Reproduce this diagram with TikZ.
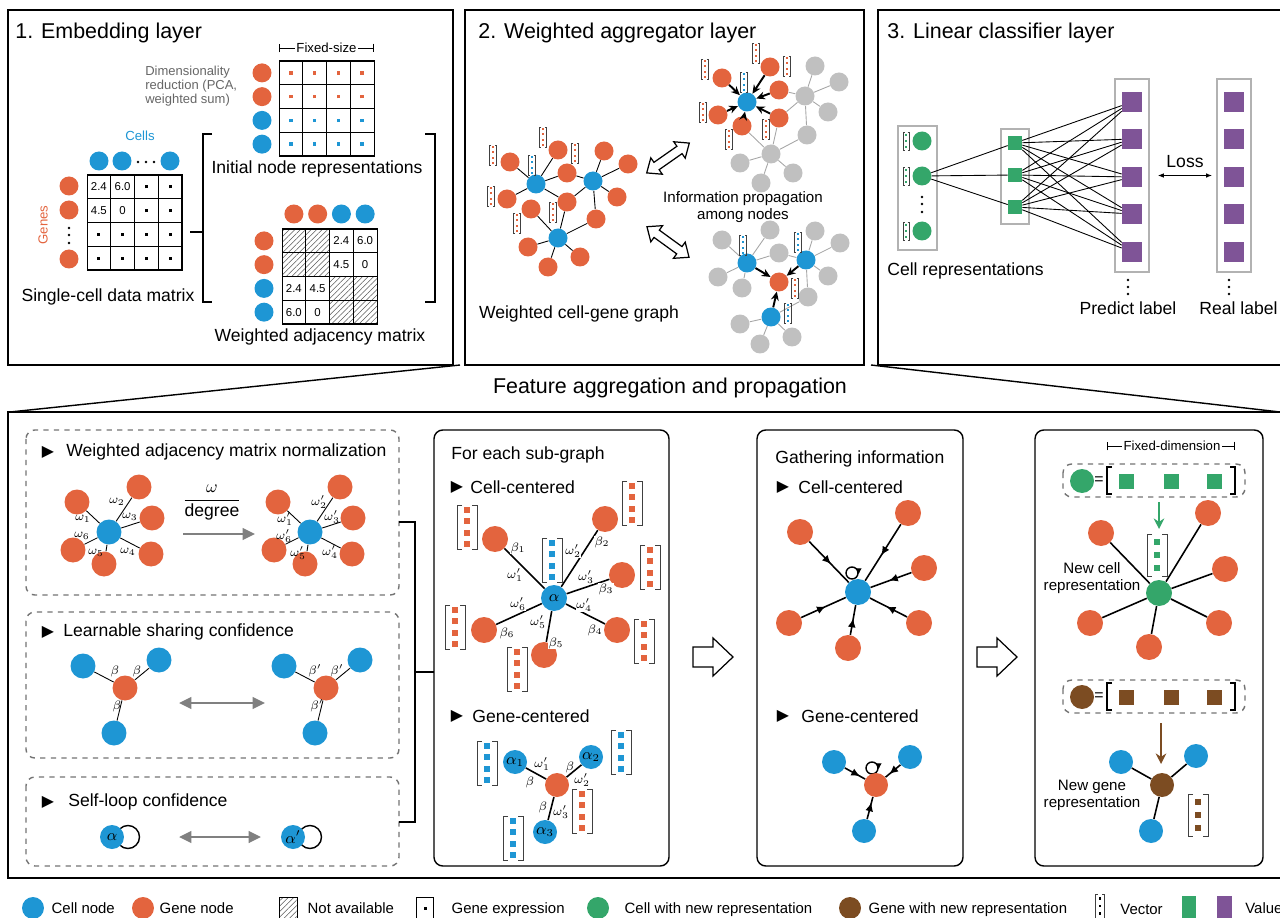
\documentclass[tikz,border=0pt]{standalone}
\usepackage{fontspec}
\usepackage{amsmath}
\setmainfont{Liberation Sans}
\newfontfamily\symfont{DejaVu Sans}
\usetikzlibrary{arrows.meta, positioning, patterns.meta, decorations.markings}

\definecolor{cellblue}{RGB}{30,150,212}
\definecolor{genered}{RGB}{227,100,62}
\definecolor{newgreen}{RGB}{52,166,106}
\definecolor{newbrown}{RGB}{124,76,34}
\definecolor{valpurple}{RGB}{127,84,151}
\definecolor{nodegrey}{RGB}{192,192,192}

\newcommand{\gexp}{\rule{1.7pt}{1.7pt}}
% vettore: x, y, colore, mezza altezza, mezza larghezza, posizioni dei punti
\newcommand{\vett}[6]{%
  \draw[black!75, line width=0.45pt]
    (#1-0.5*#5,#2-#4) -- (#1-#5,#2-#4) -- (#1-#5,#2+#4) -- (#1-0.5*#5,#2+#4)
    (#1+0.5*#5,#2-#4) -- (#1+#5,#2-#4) -- (#1+#5,#2+#4) -- (#1+0.5*#5,#2+#4);
  \foreach \k in {#6}
    \fill[#3] (#1-0.3*#5,#2-#4+2*\k*#4-0.3*#5) rectangle (#1+0.3*#5,#2-#4+2*\k*#4+0.3*#5);%
}

\begin{document}
\begin{tikzpicture}[x=0.02cm, y=-0.02cm]
    % Stili
    \tikzstyle{panel}=[draw, line width=0.8pt]
    \tikzstyle{dashbox}=[draw=black!55, dashed, line width=0.8pt, rounded corners=5pt]
    \tikzstyle{ptitle}=[anchor=west, inner sep=0pt, font=\fontsize{12.2}{14}\selectfont]
    \tikzstyle{lbl}=[inner sep=0pt, font=\fontsize{10}{12}\selectfont]
    \tikzstyle{heading}=[anchor=west, inner sep=0pt, font=\fontsize{10}{12}\selectfont]
    \tikzstyle{note}=[inner sep=0pt, align=center, font=\fontsize{8.6}{9.6}\selectfont]
    \tikzstyle{smalltxt}=[inner sep=0pt, font=\fontsize{7.5}{8}\selectfont]
    \tikzstyle{greek}=[inner sep=0pt, font=\fontsize{7}{8}\selectfont]
    \tikzstyle{legtxt}=[anchor=west, inner sep=0pt, text height=1.6ex, text depth=0.4ex, font=\fontsize{8.5}{10}\selectfont]
    \tikzstyle{tri}=[inner sep=0pt, font=\symfont\fontsize{9}{9}\selectfont]
    \tikzstyle{cellnode}=[circle, fill=cellblue, inner sep=0pt, minimum size=0.38cm, font=\fontsize{9}{10}\selectfont]
    \tikzstyle{genenode}=[circle, fill=genered, inner sep=0pt, minimum size=0.38cm]
    \tikzstyle{greynode}=[circle, fill=nodegrey, inner sep=0pt, minimum size=0.38cm]
    \tikzstyle{mcell}=[draw, rectangle, minimum size=0.475cm, inner sep=0pt, line width=0.6pt, font=\fontsize{6.5}{7}\selectfont]
    \tikzstyle{hatch}=[pattern={Lines[angle=45, distance=2.2pt, line width=0.3pt]}, pattern color=black!65]
    \tikzstyle{link}=[line width=0.5pt]
    \tikzstyle{thicklink}=[line width=0.9pt]
    \tikzstyle{greylink}=[line width=0.5pt, black!35]
    \tikzstyle{push}=[-{Stealth[length=5pt, width=4.5pt]}, line width=1.1pt]
    \tikzstyle{graybox}=[draw=black!30, line width=0.8pt, inner sep=0pt]
    \tikzstyle{grey_arrow}=[-{Triangle[length=7pt, width=6.5pt]}, line width=1.6pt, black!50]
    \tikzstyle{grey_double}=[{Triangle[length=7pt, width=6.5pt]}-{Triangle[length=7pt, width=6.5pt]}, line width=1.6pt, black!50]
    \tikzstyle{inflow}=[line width=0.9pt, postaction={decorate}, decoration={markings, mark=at position 0.55 with {\arrow{Latex[length=5pt, width=4.5pt]}}}]
    \tikzstyle{inflow_near}=[line width=0.9pt, postaction={decorate}, decoration={markings, mark=at position 0.75 with {\arrow{Latex[length=5pt, width=4.5pt]}}}]
    \tikzstyle{openarrow}=[draw, fill=white, line width=0.7pt, line join=miter]

    \useasboundingbox (0,0) rectangle (1280,918);

    % ---------------- 1. Embedding layer ----------------
    \draw[panel] (8,10) rectangle (453,365);
    \node[ptitle] (t1) at (15,33) {1. Embedding layer};

    \coordinate (fsA) at (279,48);
    \coordinate (fsB) at (374,48);
    \draw[{Bar[width=5pt]}-{Bar[width=5pt]}, line width=0.5pt] (fsA) -- (fsB);
    \node[smalltxt, fill=white, inner xsep=1pt] (fs) at (326.5,48) {Fixed-size};
    \node[anchor=west, inner sep=0pt, align=left, text=black!60, font=\fontsize{7.4}{7.9}\selectfont] (dimred) at (145,86) {Dimensionality\\reduction (PCA,\\weighted sum)};

    % matrice delle rappresentazioni iniziali
    \foreach \r/\cc in {0/genered,1/genered,2/cellblue,3/cellblue} {
      \node[cellnode, fill=\cc] (inl-\r) at (262,72.9+23.75*\r) {};
      \foreach \c in {0,...,3}
        \node[mcell] (in-\r-\c) at (290.9+23.75*\c,72.9+23.75*\r) {\textcolor{\cc}{\rule{1.9pt}{1.9pt}}};
    }
    \node[lbl] (inlab) at (317,169) {Initial node representations};

    % matrice dei dati
    \node[smalltxt, text=cellblue] (cellstxt) at (140,136) {Cells};
    \node[cellnode] (dc1) at (99,161) {};
    \node[cellnode] (dc2) at (122,161) {};
    \node[cellnode] (dc3) at (170,161) {};
    \foreach \x in {138,146,154} {\fill (\x,162) circle (1.4);}
    \node[smalltxt, text=genered, rotate=90] (genestxt) at (43,225) {Genes};
    \node[genenode] (dg1) at (69,186) {};
    \node[genenode] (dg2) at (69,210) {};
    \node[genenode] (dg3) at (69,259) {};
    \foreach \y in {228,235,243} {\fill (69,\y) circle (1.4);}
    \foreach \r/\c/\v in {0/0/2.4, 0/1/6.0, 0/2/\gexp, 0/3/\gexp, 1/0/4.5, 1/1/0, 1/2/\gexp, 1/3/\gexp,
                          2/0/\gexp, 2/1/\gexp, 2/2/\gexp, 2/3/\gexp, 3/0/\gexp, 3/1/\gexp, 3/2/\gexp, 3/3/\gexp} {
      \node[mcell] (dm-\r-\c) at (98.9+23.75*\c,186.9+23.75*\r) {\v};
    }
    \node[lbl] (dmlab) at (108,297) {Single-cell data matrix};

    % parentesi
    \draw[line width=0.6pt] (212,134) -- (203,134) -- (203,302) -- (212,302);
    \draw[line width=0.6pt] (425,134) -- (435,134) -- (435,302) -- (425,302);
    \coordinate (dmR) at (190,232);
    \coordinate (brL) at (203,232);
    \draw[line width=0.6pt] (dmR) -- (brL);

    % matrice di adiacenza
    \foreach \i/\cc in {0/genered,1/genered,2/cellblue,3/cellblue} {
      \node[cellnode, fill=\cc] (amt-\i) at (293.9+23.75*\i,214) {};
      \node[cellnode, fill=\cc] (aml-\i) at (264,240.9+23.75*\i) {};
    }
    \foreach \r/\c in {0/0,0/1,1/0,1/1,2/2,2/3,3/2,3/3} {
      \node[mcell, hatch] (am-\r-\c) at (293.9+23.75*\c,240.9+23.75*\r) {};
    }
    \foreach \r/\c/\v in {0/2/2.4,0/3/6.0,1/2/4.5,1/3/0,2/0/2.4,2/1/4.5,3/0/6.0,3/1/0} {
      \node[mcell] (am-\r-\c) at (293.9+23.75*\c,240.9+23.75*\r) {\v};
    }
    \node[lbl] (amlab) at (320,337) {Weighted adjacency matrix};

    % ---------------- 2. Weighted aggregator layer ----------------
    \draw[panel] (465,10) rectangle (864,365);
    \node[ptitle] (t2) at (478,33) {2. Weighted aggregator layer};

    \foreach \n/\x/\y in {gb1/536/184, gb2/593/181, gb3/558/238} {
      \node[cellnode] (\n) at (\x,\y) {};
    }
    \foreach \n/\x/\y in {go1/510/162, go2/558/150, go3/567/173, go4/604/151, go5/628/164, go6/507/199, go7/531/209,
                          go8/567/202, go9/617/197, go10/596/219, go11/528/247, go12/548/267, go13/580/257} {
      \node[genenode] (\n) at (\x,\y) {};
    }
    \foreach \o in {go1,go2,go3,go6,go8} {\draw[link] (gb1) -- (\o);}
    \foreach \o in {go3,go4,go5,go8,go9,go10} {\draw[link] (gb2) -- (\o);}
    \foreach \o in {go7,go8,go10,go11,go12,go13} {\draw[link] (gb3) -- (\o);}
    \foreach \x/\y in {493/155, 543/137, 575/153, 491/196, 517/223, 553/212} {
      \vett{\x}{\y}{genered}{10}{3.5}{0.12,0.37,0.63,0.88}
    }
    \vett{532}{165}{cellblue}{10}{3.5}{0.12,0.37,0.63,0.88}
    \node[lbl] (wglab) at (579,314) {Weighted cell-gene graph};

    % frecce doppie
    \begin{scope}[shift={(668,158)}, rotate=35]
      \draw[openarrow] (-26,0) -- (-14,10) -- (-14,4.5) -- (14,4.5) -- (14,10) -- (26,0) -- (14,-10) -- (14,-4.5) -- (-14,-4.5) -- (-14,-10) -- cycle;
    \end{scope}
    \begin{scope}[shift={(668,242)}, rotate=-36]
      \draw[openarrow] (-26,0) -- (-14,10) -- (-14,4.5) -- (14,4.5) -- (14,10) -- (26,0) -- (14,-10) -- (14,-4.5) -- (-14,-4.5) -- (-14,-10) -- cycle;
    \end{scope}
    \node[note] (proplab) at (743,207) {Information propagation\\among nodes};

    % sottografo centrato sulla cellula
    \foreach \n/\x/\y in {pug1/815/66, pug2/839/82, puh1/805/96, pug3/828/112, pug4/807/135, puh2/771/154,
                          pug5/740/163, pug6/793/173, pug7/761/183} {
      \node[greynode] (\n) at (\x,\y) {};
    }
    \node[cellnode] (puc) at (747,102) {};
    \foreach \n/\x/\y in {puo1/722/78, puo2/770/67, puo3/779/90, puo4/718/115, puo5/742/126, puo6/779/118} {
      \node[genenode] (\n) at (\x,\y) {};
    }
    \foreach \o in {pug1,pug2,pug3,pug4,puo3,puo6} {\draw[greylink] (puh1) -- (\o);}
    \foreach \o in {pug4,pug5,pug6,pug7,puo5,puo6} {\draw[greylink] (puh2) -- (\o);}
    \foreach \o in {puo1,puo2,puo3,puo4,puo5,puo6} {\draw[push] (\o) -- (puc);}
    \foreach \x/\y in {705/69, 756/53, 787/66, 703/112, 729/139, 766/129} {
      \vett{\x}{\y}{genered}{10}{3.5}{0.12,0.37,0.63,0.88}
    }
    \vett{744}{82}{cellblue}{10}{3.5}{0.12,0.37,0.63,0.88}

    % sottografo centrato sul gene
    \foreach \n/\x/\y in {plg1/722/240, plg2/770/230, plg3/815/231, plg4/840/243, plg5/779/253, plg6/718/277,
                          plg7/742/288, plg8/828/276, plg9/808/297, plg10/740/324, plg11/792/337, plg12/760/344} {
      \node[greynode] (\n) at (\x,\y) {};
    }
    \foreach \n/\x/\y in {plb1/747/263, plb2/806/260, plb3/771/317} {
      \node[cellnode] (\n) at (\x,\y) {};
    }
    \node[genenode] (ple) at (779,282) {};
    \foreach \o in {plg1,plg2,plg5,plg6,plg7} {\draw[greylink] (plb1) -- (\o);}
    \foreach \o in {plg3,plg4,plg5,plg8,plg9} {\draw[greylink] (plb2) -- (\o);}
    \foreach \o in {plg9,plg10,plg11,plg12} {\draw[greylink] (plb3) -- (\o);}
    \foreach \b in {plb1,plb2,plb3} {\draw[push] (\b) -- (ple);}
    \foreach \x/\y in {743/245, 798/242, 788/313} {
      \vett{\x}{\y}{cellblue}{10}{3.5}{0.12,0.37,0.63,0.88}
    }
    \vett{795}{288}{genered}{10}{3.5}{0.12,0.37,0.63,0.88}

    % ---------------- 3. Linear classifier layer ----------------
    \draw[panel] (878,10) rectangle (1300,365);
    \node[ptitle] (t3) at (887,33) {3. Linear classifier layer};

    \node[graybox, minimum width=0.78cm, minimum height=2.48cm] (cbox) at (917.5,188) {};
    \node[graybox, minimum width=0.56cm, minimum height=1.9cm] (mbox) at (1015,176.5) {};
    \node[graybox, minimum width=0.68cm, minimum height=3.86cm] (pbox) at (1132,175.5) {};
    \node[graybox, minimum width=0.68cm, minimum height=3.86cm] (rbox) at (1234,175.5) {};

    \foreach \i/\y in {1/141, 2/176, 3/231} {
      \node[cellnode, fill=newgreen] (lcc\i) at (922,\y) {};
      \vett{906}{\y}{newgreen}{9}{3}{0.18,0.5,0.82}
    }
    \foreach \y in {197,204,212} {\fill (922,\y) circle (1.4);}
    \node[lbl, anchor=west] (crlab) at (887,271) {Cell representations};

    \foreach \i/\y in {1/143, 2/175, 3/207} {
      \node[fill=newgreen, minimum size=0.28cm, inner sep=0pt] (lsq\i) at (1015,\y) {};
    }
    \foreach \i/\y in {1/102, 2/139, 3/177, 4/214, 5/252} {
      \node[fill=valpurple, minimum size=0.4cm, inner sep=0pt] (lpp\i) at (1132,\y) {};
      \node[fill=valpurple, minimum size=0.4cm, inner sep=0pt] (lpr\i) at (1234,\y) {};
    }
    \foreach \s in {1,2,3} {\draw[link] (lcc2) -- (lsq\s);}
    \foreach \s in {1,2,3} {\foreach \p in {1,...,5} {\draw[link] (lsq\s) -- (lpp\p);}}
    \foreach \y in {280,287,294} {
      \fill (1128,\y) circle (1.4);
      \fill (1229,\y) circle (1.4);
    }
    \node[lbl] (plab) at (1128,308) {Predict label};
    \node[lbl, anchor=west] (rlab) at (1199,308) {Real label};
    \draw[{Latex[length=3.5pt]}-{Latex[length=3.5pt]}, line width=1pt, shorten <=4.5pt, shorten >=2.3pt] (pbox) -- (rbox);
    \node[lbl] (loss) at (1185,162) {Loss};

    % ---------------- Feature aggregation and propagation ----------------
    \coordinate (zl1) at (460,365);
    \coordinate (zl2) at (10,412);
    \coordinate (zr1) at (871,365);
    \coordinate (zr2) at (1280,412);
    \draw[line width=0.8pt] (zl1) -- (zl2);
    \draw[line width=0.8pt] (zr1) -- (zr2);
    \node[ptitle, anchor=center] (falab) at (670,388) {Feature aggregation and propagation};
    \draw[panel] (8,412) rectangle (1300,878);

    % riquadri tratteggiati
    \draw[dashbox] (26,430) rectangle (399,595);
    \draw[dashbox] (26,612) rectangle (399,758);
    \draw[dashbox] (26,777) rectangle (399,866);

    % normalizzazione
    \node[tri] (tr1) at (48,452) {▶};
    \node[heading] (h1) at (66,452) {Weighted adjacency matrix normalization};
    \node[cellnode, minimum size=0.5cm] (n1c) at (109,532) {};
    \node[cellnode, minimum size=0.5cm] (n2c) at (310,532) {};
    \foreach \i/\x/\y in {1/77/502, 2/139/487, 3/152/518, 4/151/554, 5/104/564, 6/73/550} {
      \node[genenode, minimum size=0.5cm] (n1o\i) at (\x,\y) {};
      \node[genenode, minimum size=0.5cm] (n2o\i) at (\x+201,\y) {};
      \draw[link] (n1c) -- (n1o\i);
      \draw[link] (n2c) -- (n2o\i);
    }
    \foreach \i/\x/\y in {1/83/519, 2/117/502, 3/130/517, 4/128/552, 5/96/553, 6/82/536} {
      \node[greek] (w1l\i) at (\x,\y) {$\omega_\i$};
      \node[greek] (w2l\i) at (\x+202,\y) {$\omega'_\i$};
    }
    \coordinate (naA) at (183,534);
    \coordinate (naB) at (255,534);
    \draw[grey_arrow] (naA) -- (naB);
    \node[lbl] (frac) at (212,503) {$\dfrac{\omega}{\mbox{degree}}$};

    % confidenza condivisa
    \node[tri] (tr2) at (48,632) {▶};
    \node[heading] (h2) at (63,632) {Learnable sharing confidence};
    \node[genenode, minimum size=0.5cm] (s1c) at (125,688) {};
    \node[genenode, minimum size=0.5cm] (s2c) at (326,688) {};
    \foreach \i/\x/\y in {1/83/666, 2/159/660, 3/114/733} {
      \node[cellnode, minimum size=0.5cm] (s1b\i) at (\x,\y) {};
      \node[cellnode, minimum size=0.5cm] (s2b\i) at (\x+201,\y) {};
      \draw[link] (s1c) -- (s1b\i);
      \draw[link] (s2c) -- (s2b\i);
    }
    \foreach \i/\x/\y in {1/115/671, 2/137/671, 3/117/706} {
      \node[greek] (b1l\i) at (\x,\y) {$\beta$};
      \node[greek] (b2l\i) at (\x+200,\y) {$\beta'$};
    }
    \coordinate (scA) at (179,703);
    \coordinate (scB) at (265,703);
    \draw[grey_double] (scA) -- (scB);

    % auto-anello
    \node[tri] (tr3) at (48,802) {▶};
    \node[heading] (h3) at (68,802) {Self-loop confidence};
    \node[circle, draw, line width=0.8pt, minimum size=0.46cm, inner sep=0pt] (lp1) at (128,837) {};
    \node[cellnode, minimum size=0.48cm] (al1) at (112,837) {$\alpha$};
    \node[circle, draw, line width=0.8pt, minimum size=0.46cm, inner sep=0pt] (lp2) at (310,837) {};
    \node[cellnode, minimum size=0.48cm] (al2) at (293,837) {$\alpha'$};
    \coordinate (slA) at (179,837);
    \coordinate (slB) at (261,837);
    \draw[grey_double] (slA) -- (slB);

    % collegamento dei riquadri
    \draw[line width=0.6pt] (399,522) -- (415,522) -- (415,822) -- (399,822);
    \coordinate (brM) at (415,672);
    \coordinate (sgL) at (434,672);
    \draw[line width=0.6pt] (brM) -- (sgL);

    % ---------------- For each sub-graph ----------------
    \draw[panel, rounded corners=5pt] (434,430) rectangle (669,866);
    \node[heading] (h4) at (451,455) {For each sub-graph};
    \node[tri] (tr4) at (457,487) {▶};
    \node[heading] (h5) at (470,487) {Cell-centered};
    \node[cellnode, minimum size=0.52cm] (sc) at (554,598) {$\alpha$};
    \foreach \i/\x/\y in {1/495/539, 2/605/519, 3/622/575, 4/617/630, 5/544/655, 6/484/630} {
      \node[genenode, minimum size=0.52cm] (sco\i) at (\x,\y) {};
      \draw[thicklink] (sc) -- (sco\i);
    }
    \foreach \x/\y/\t in {518/548/{$\beta_1$}, 515/575/{$\omega'_1$}, 573/551/{$\omega'_2$}, 602/542/{$\beta_2$},
                          586/577/{$\omega'_3$}, 606/589/{$\beta_3$}, 584/605/{$\omega'_4$}, 595/630/{$\beta_4$},
                          538/622/{$\omega'_5$}, 556/643/{$\beta_5$}, 518/604/{$\omega'_6$}, 507/633/{$\beta_6$}} {
      \node[greek, fill=white, inner sep=0.3pt] at (\x,\y) {\t};
    }
    \foreach \x/\y in {467/527, 632/503, 650/567, 644/641, 455/627, 517/669} {
      \vett{\x}{\y}{genered}{22}{10}{0.12,0.37,0.63,0.88}
    }
    \vett{552}{560}{cellblue}{22}{10}{0.12,0.37,0.63,0.88}

    \node[tri] (tr5) at (457,716) {▶};
    \node[heading] (h6) at (472,716) {Gene-centered};
    \node[genenode, minimum size=0.48cm] (sg) at (557,785) {};
    \foreach \i/\x/\y in {1/515/762, 2/591/757, 3/545/832} {
      \node[cellnode, minimum size=0.48cm] (sgb\i) at (\x,\y) {$\alpha_\i$};
      \draw[thicklink] (sg) -- (sgb\i);
    }
    \foreach \x/\y/\t in {542/764/{$\omega'_1$}, 530/782/{$\beta$}, 570/767/{$\beta$}, 582/780/{$\omega'_2$},
                          543/807/{$\beta$}, 561/812/{$\omega'_3$}} {
      \node[greek] at (\x,\y) {\t};
    }
    \foreach \x/\y in {487/763, 621/752, 513/838} {
      \vett{\x}{\y}{cellblue}{22}{10}{0.12,0.37,0.63,0.88}
    }
    \vett{582}{811}{genered}{22}{10}{0.12,0.37,0.63,0.88}

    % freccia aperta
    \draw[openarrow] (693,647) -- (713,647) -- (713,638) -- (733,657) -- (713,676) -- (713,667) -- (693,667) -- cycle;

    % ---------------- Gathering information ----------------
    \draw[panel, rounded corners=5pt] (757,430) rectangle (963,866);
    \node[heading] (h7) at (775,459) {Gathering information};
    \node[tri] (tr6) at (783,487) {▶};
    \node[heading] (h8) at (798,487) {Cell-centered};
    \node[circle, draw, line width=0.8pt, minimum size=0.24cm, inner sep=0pt] (gil1) at (852,573) {};
    \draw[-{Latex[length=3.5pt, width=3.5pt]}, line width=0.8pt] (gil1.east) -- ++(0,1.5);
    \node[cellnode, minimum size=0.52cm] (gic) at (858,592) {};
    \foreach \i/\x/\y in {1/800/532, 2/908/513, 3/924/568, 4/919/623, 5/848/648, 6/789/623} {
      \node[genenode, minimum size=0.52cm] (gio\i) at (\x,\y) {};
      \draw[inflow] (gio\i) -- (gic);
    }
    \node[tri] (tr7) at (783,716) {▶};
    \node[heading] (h9) at (801,716) {Gene-centered};
    \node[circle, draw, line width=0.8pt, minimum size=0.24cm, inner sep=0pt] (gil2) at (872,768) {};
    \draw[-{Latex[length=3.5pt, width=3.5pt]}, line width=0.8pt] (gil2.east) -- ++(0,1.5);
    \node[genenode, minimum size=0.48cm] (gig) at (876,785) {};
    \foreach \i/\x/\y in {1/834/762, 2/910/757, 3/864/831} {
      \node[cellnode, minimum size=0.48cm] (gib\i) at (\x,\y) {};
      \draw[inflow_near] (gib\i) -- (gig);
    }

    \draw[openarrow] (977,647) -- (997,647) -- (997,638) -- (1017,657) -- (997,676) -- (997,667) -- (977,667) -- cycle;

    % ---------------- Nuove rappresentazioni ----------------
    \draw[panel, rounded corners=5pt] (1035,430) rectangle (1263,866);
    \coordinate (fdA) at (1107,446);
    \coordinate (fdB) at (1235,446);
    \draw[{Bar[width=5pt]}-{Bar[width=5pt]}, line width=0.5pt] (fdA) -- (fdB);
    \node[smalltxt, fill=white, inner xsep=1pt] (fd) at (1172,446) {Fixed-dimension};

    \foreach \cc/\y/\n in {newgreen/481/eqg, newbrown/697/eqb} {
      \draw[dashbox] (1063,\y-17) rectangle (1245,\y+16);
      \node[circle, fill=\cc, minimum size=0.48cm, inner sep=0pt] (\n) at (1082,\y) {};
      \node[inner sep=0pt, font=\fontsize{9}{10}\selectfont] (\n-eq) at (1099,\y) {=};
      \draw[line width=0.6pt] (1112,\y-14) -- (1107,\y-14) -- (1107,\y+13) -- (1112,\y+13);
      \draw[line width=0.6pt] (1230,\y-14) -- (1235,\y-14) -- (1235,\y+13) -- (1230,\y+13);
      \foreach \x [count=\j] in {1126,1171,1214} {
        \node[fill=\cc, minimum size=0.3cm, inner sep=0pt] (\n-sq\j) at (\x,\y) {};
      }
    }
    \coordinate (gaA) at (1159,502);
    \coordinate (gaB) at (1159,529);
    \draw[-{Stealth[length=6pt, width=6pt]}, line width=1.4pt, newgreen] (gaA) -- (gaB);
    \vett{1157}{555}{newgreen}{21}{10}{0.18,0.5,0.82}

    \node[circle, fill=newgreen, minimum size=0.52cm, inner sep=0pt] (nrc) at (1159,593) {};
    \foreach \i/\x/\y in {1/1101/533, 2/1208/513, 3/1225/569, 4/1219/623, 5/1149/647, 6/1090/623} {
      \node[genenode, minimum size=0.52cm] (nro\i) at (\x,\y) {};
      \draw[thicklink] (nrc) -- (nro\i);
    }
    \node[note] (ncl) at (1092,578) {New cell\\representation};

    \coordinate (baA) at (1161,723);
    \coordinate (baB) at (1161,764);
    \draw[-{Stealth[length=6pt, width=6pt]}, line width=1.4pt, newbrown] (baA) -- (baB);
    \node[circle, fill=newbrown, minimum size=0.48cm, inner sep=0pt] (nrg) at (1162,785) {};
    \foreach \i/\x/\y in {1/1121/762, 2/1196/756, 3/1151/831} {
      \node[cellnode, minimum size=0.48cm] (nrb\i) at (\x,\y) {};
      \draw[thicklink] (nrg) -- (nrb\i);
    }
    \node[note] (ngl) at (1092,795) {New gene\\representation};
    \vett{1198}{815}{newbrown}{21}{10}{0.18,0.5,0.82}

    % ---------------- Legenda ----------------
    \node[cellnode, minimum size=0.44cm] (lgc) at (33,908) {};
    \node[legtxt, right=0.14cm of lgc] (lgct) {Cell node};
    \node[genenode, minimum size=0.44cm] (lgg) at (143,908) {};
    \node[legtxt, right=0.1cm of lgg] (lggt) {Gene node};
    \node[draw, line width=0.4pt, hatch, minimum width=0.36cm, minimum height=0.44cm, inner sep=0pt] (lgna) at (288,908) {};
    \node[legtxt, right=0.2cm of lgna] (lgnat) {Not available};
    \node[draw, line width=0.4pt, minimum width=0.34cm, minimum height=0.44cm, inner sep=0pt] (lgge) at (425,908) {\gexp};
    \node[legtxt, right=0.35cm of lgge] (lggetx) {Gene expression};
    \node[circle, fill=newgreen, minimum size=0.44cm, inner sep=0pt] (lgn) at (598,908) {};
    \node[legtxt, right=0.3cm of lgn] (lgnt) {Cell with new representation};
    \node[circle, fill=newbrown, minimum size=0.44cm, inner sep=0pt] (lgb) at (850,908) {};
    \node[legtxt, right=0.14cm of lgb] (lgbt) {Gene with new representation};
    \vett{1100}{906}{black}{12}{4.5}{0.18,0.5,0.82}
    \node[legtxt] (lgvt) at (1120,909) {Vector};
    \node[fill=newgreen, minimum width=0.28cm, minimum height=0.46cm, inner sep=0pt] (lgvg) at (1189,907) {};
    \node[fill=valpurple, minimum width=0.3cm, minimum height=0.46cm, inner sep=0pt] (lgvp) at (1224,907) {};
    \node[legtxt] (lgvat) at (1245,908) {Value};
\end{tikzpicture}
\end{document}
